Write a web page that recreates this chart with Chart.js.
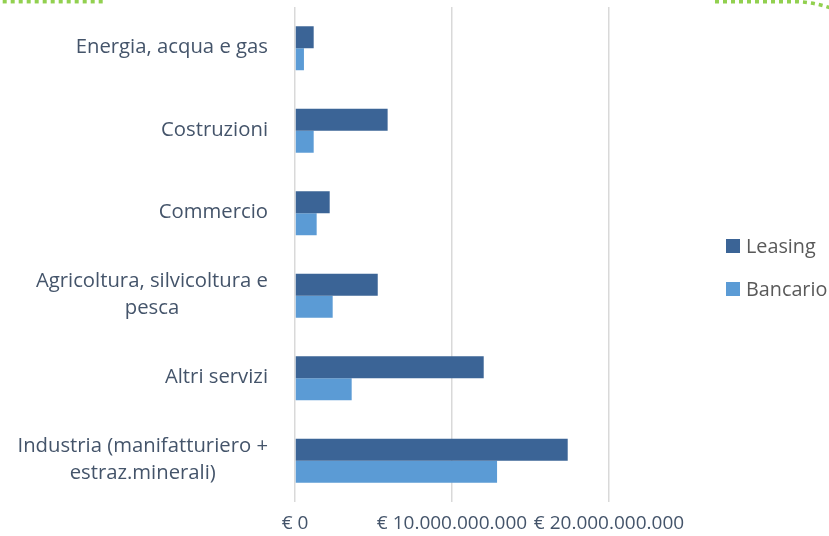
<!DOCTYPE html>
<html>
<head>
<meta charset="utf-8">
<script src="https://cdn.jsdelivr.net/npm/chart.js@4.4.0/dist/chart.umd.min.js"></script>
<style>
    html, body { margin: 0; padding: 0; background: #fff; }
    #wrap { width: 829px; height: 536px; position: relative; }
</style>
</head>
<body>
<div id="wrap"><canvas id="chart"></canvas></div>
<script>
// Data (euro)
const categories = [
    ['Energia, acqua e gas'],
    ['Costruzioni'],
    ['Commercio'],
    ['Agricoltura, silvicoltura e', 'pesca'],
    ['Altri servizi'],
    ['Industria (manifatturiero +', 'estraz.minerali)']
];
const leasing = [1190000000, 5900000000, 2210000000, 5270000000, 12020000000, 17370000000];
const bancario = [570000000, 1190000000, 1380000000, 2400000000, 3610000000, 12870000000];
const xTicks = [0, 10000000000, 20000000000];

const FONT = '"Open Sans", sans-serif';
const TEXT = '#44546A';

function euro(v) {
    return '€ ' + String(v).replace(/\B(?=(\d{3})+(?!\d))/g, '.');
}

// green dotted slide decoration at the top
const decoration = {
    id: 'decoration',
    beforeDraw(chart) {
        const c = chart.ctx;
        c.save();
        c.strokeStyle = '#92D050';
        c.lineWidth = 3.5;
        c.setLineDash([4, 4]);
        c.beginPath();
        c.moveTo(2.7, 1.7);
        c.lineTo(104, 1.7);
        c.stroke();
        c.beginPath();
        c.moveTo(715, 1.7);
        c.lineTo(796, 1.7);
        c.quadraticCurveTo(816, 2, 836, 10);
        c.stroke();
        c.restore();
    }
};

// category labels: widest line right aligned, lines centred in the block
const catLabels = {
    id: 'catLabels',
    afterDraw(chart) {
        const c = chart.ctx;
        const y = chart.scales.y;
        c.save();
        c.font = '20.3px ' + FONT;
        c.fillStyle = TEXT;
        c.textAlign = 'center';
        c.textBaseline = 'middle';
        const right = 268;
        const lh = 27;
        categories.forEach((lines, i) => {
            const cy = y.getPixelForValue(i) - 1;
            const w = Math.max(...lines.map(l => c.measureText(l).width));
            const cx = right - w / 2;
            const y0 = cy - (lines.length - 1) * lh / 2;
            lines.forEach((l, j) => c.fillText(l, cx, y0 + j * lh));
        });
        c.restore();
    }
};

// legend on the right
const sideLegend = {
    id: 'sideLegend',
    afterDraw(chart) {
        const c = chart.ctx;
        c.save();
        c.font = '19.8px ' + FONT;
        c.textBaseline = 'middle';
        chart.data.datasets.forEach((ds, i) => {
            const cy = 246 + i * 43;
            c.fillStyle = ds.backgroundColor;
            c.fillRect(726, cy - 7, 14, 14);
            c.fillStyle = '#595959';
            c.fillText(ds.label, 746, cy + 1);
        });
        c.restore();
    }
};

new Chart(document.getElementById('chart'), {
    type: 'bar',
    data: {
        labels: categories.map(l => l.join(' ')),
        datasets: [
            { label: 'Leasing', data: leasing, backgroundColor: '#3B6496' },
            { label: 'Bancario', data: bancario, backgroundColor: '#5B9BD5' }
        ]
    },
    options: {
        indexAxis: 'y',
        responsive: true,
        maintainAspectRatio: false,
        animation: false,
        datasets: {
            bar: { categoryPercentage: 0.533, barPercentage: 1 }
        },
        layout: {
            padding: { left: 295, right: 220, top: 7, bottom: 0 }
        },
        plugins: {
            legend: { display: false },
            tooltip: { enabled: false }
        },
        scales: {
            x: {
                min: 0,
                max: 20000000000,
                afterBuildTicks: s => { s.ticks = xTicks.map(v => ({ value: v })); },
                afterFit: s => { s.height = 34; },
                grid: { color: '#D9D9D9', lineWidth: 1.5, drawTicks: false },
                border: { display: false },
                ticks: {
                    padding: 10,
                    maxRotation: 0,
                    autoSkip: false,
                    color: TEXT,
                    font: { family: FONT, size: 19 },
                    callback: v => euro(v)
                }
            },
            y: {
                display: false
            }
        }
    },
    plugins: [decoration, catLabels, sideLegend]
});
</script>
</body>
</html>
